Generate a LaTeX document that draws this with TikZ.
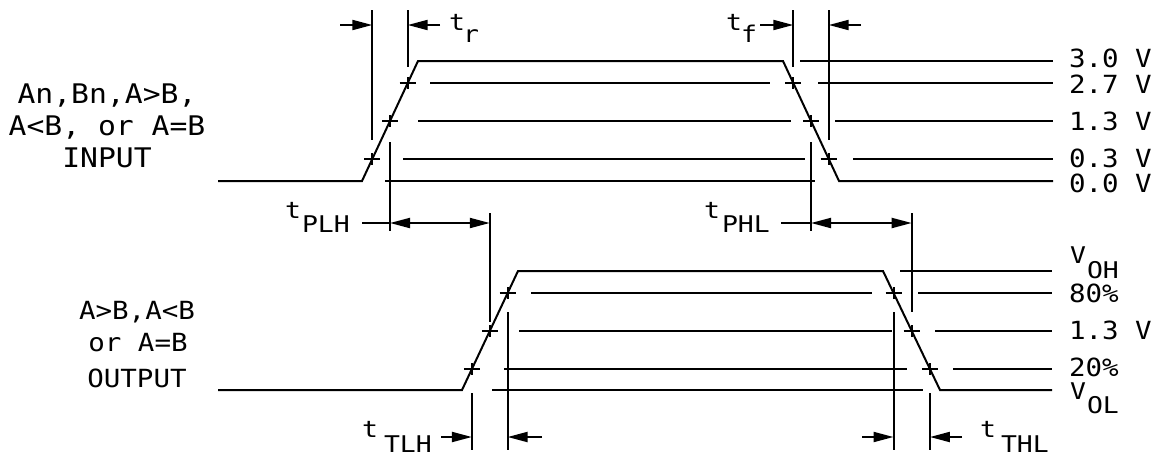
\documentclass[tikz,border=0pt]{standalone}
\usepackage{fontspec}
\newfontfamily\cadfont[FakeStretch=1.1]{DejaVu Sans Mono}
\newfontfamily\cadsmall[FakeStretch=1.15]{DejaVu Sans Mono}
\usetikzlibrary{arrows.meta}
\newcommand\tickmark[1]{\draw (#1) ++(-8,0) -- ++(16,0) (#1) ++(0,-6) -- ++(0,12);}
\begin{document}
\begin{tikzpicture}[x=1pt,y=-1pt,line width=2pt,
  wave/.style={line join=miter},
  dimarrow/.style={-{Triangle[length=20pt,width=10pt]}},
  dimboth/.style={{Triangle[length=20pt,width=10pt]}-{Triangle[length=20pt,width=10pt]}},
  biglbl/.style={font=\cadfont\fontsize{27}{32}\selectfont,inner sep=0pt,anchor=base},
  outlbl/.style={font=\cadfont\fontsize{25}{30}\selectfont,inner sep=0pt,anchor=base},
  rlbl/.style={font=\cadfont\fontsize{25}{30}\selectfont,inner sep=0pt,anchor=base west},
  sm/.style={font=\cadsmall\fontsize{23}{26}\selectfont,inner sep=0pt,anchor=base west}]
\useasboundingbox (0,0) rectangle (1156,456);
% ---------- input waveform ----------
\coordinate (i0) at (218,181); \coordinate (i1) at (362,181);
\coordinate (i2) at (418,61);  \coordinate (i3) at (783,61);
\coordinate (i4) at (839,181); \coordinate (i5) at (1053,181);
\draw[wave] (i0)--(i1)--(i2)--(i3)--(i4)--(i5);
% crossings
\coordinate (r27) at (407.7,83); \coordinate (r13) at (390,121); \coordinate (r03) at (372.3,159);
\coordinate (f27) at (793.3,83); \coordinate (f13) at (811,121); \coordinate (f03) at (828.7,159);
\foreach \c in {r27,r13,r03,f27,f13,f03} {\tickmark{\c}}
% level lines
\draw (800,61)--(1053,61);
\draw (430,83)--(770,83) (818,83)--(1053,83);
\draw (418,121)--(791,121) (835,121)--(1053,121);
\draw (403,159)--(805,159) (853,159)--(1053,159);
\draw (385,181)--(815,181);
% tr / tf extension lines
\coordinate (vtrA) at (372.3,10); \coordinate (vtrB) at (407.7,10);
\coordinate (vtfA) at (793.3,10); \coordinate (vtfB) at (828.7,10);
\draw (vtrA)--(372.3,140) (vtrB)--(407.7,67) (vtfA)--(793.3,67) (vtfB)--(828.7,140);
\coordinate (atrA) at (372.3,25); \coordinate (atrB) at (407.7,25);
\coordinate (atfA) at (793.3,25); \coordinate (atfB) at (828.7,25);
\draw[dimarrow] (340,25)--(atrA);
\draw[dimarrow] (440,25)--(atrB);
\draw[dimarrow] (760,25)--(atfA);
\draw[dimarrow] (861,25)--(atfB);
\node[sm] (tr1) at (448,30) {t};
\node[sm] (tr2) at (462,42) {r};
\node[sm] (tf1) at (725,30) {t};
\node[sm] (tf2) at (740,42) {f};
% tPLH / tPHL
\draw (390,142)--(390,231) (489.8,213)--(489.8,322);
\draw (811,142)--(811,231) (911.7,213)--(911.7,312);
\coordinate (plhA) at (390,223); \coordinate (plhB) at (489.8,223);
\coordinate (phlA) at (811,223); \coordinate (phlB) at (911.7,223);
\draw (362,223)--(plhA); \draw[dimboth] (plhA)--(plhB);
\draw (781,223)--(phlA); \draw[dimboth] (phlA)--(phlB);
\node[sm] (plh1) at (284,218) {t};
\node[sm] (plh2) at (301,232) {PLH};
\node[sm] (phl1) at (703,218) {t};
\node[sm] (phl2) at (721,232) {PHL};
% ---------- output waveform ----------
\coordinate (o0) at (218,390); \coordinate (o1) at (462,390);
\coordinate (o2) at (518,271); \coordinate (o3) at (883,271);
\coordinate (o4) at (940,390); \coordinate (o5) at (1052,390);
\draw[wave] (o0)--(o1)--(o2)--(o3)--(o4)--(o5);
\coordinate (or80) at (507.6,293); \coordinate (or13) at (489.8,331); \coordinate (or20) at (471.9,369);
\coordinate (of80) at (893.5,293); \coordinate (of13) at (911.7,331); \coordinate (of20) at (929.9,369);
\foreach \c in {or80,or13,or20,of80,of13,of20} {\tickmark{\c}}
\draw (900,271)--(1052,271);
\draw (531,293)--(872,293) (918,293)--(1052,293);
\draw (519,331)--(892,331) (935,331)--(1052,331);
\draw (504,369)--(907,369) (953,369)--(1052,369);
\draw (492,390)--(923,390);
% tTLH / tTHL
\draw (471.9,393)--(471.9,450) (507.6,312)--(507.6,450);
\draw (893.5,312)--(893.5,450) (929.9,393)--(929.9,450);
\coordinate (tlhA) at (471.9,437); \coordinate (tlhB) at (507.6,437);
\coordinate (thlA) at (893.5,437); \coordinate (thlB) at (929.9,437);
\draw[dimarrow] (441,437)--(tlhA);
\draw[dimarrow] (542,437)--(tlhB);
\draw[dimarrow] (862,437)--(thlA);
\draw[dimarrow] (962,437)--(thlB);
\node[sm] (tlh1) at (361,437) {t};
\node[sm] (tlh2) at (383,452) {TLH};
\node[sm] (thl1) at (979,437) {t};
\node[sm] (thl2) at (1000,452) {THL};
% ---------- labels ----------
\node[biglbl] (in1) at (107,103) {An,Bn,A>B,};
\node[biglbl] (in2) at (107,135) {A<B, or A=B};
\node[biglbl] (in3) at (107,167) {INPUT};
\node[outlbl] (out1) at (137,319) {A>B,A<B};
\node[outlbl] (out2) at (138,351) {or A=B};
\node[outlbl] (out3) at (137,387) {OUTPUT};
\node[rlbl] (v30) at (1068,67) {3.0 V};
\node[rlbl] (v27) at (1068,93) {2.7 V};
\node[rlbl] (v13) at (1068,130) {1.3 V};
\node[rlbl] (v03) at (1068,167) {0.3 V};
\node[rlbl] (v00) at (1068,192) {0.0 V};
\node[sm] (voh1) at (1069,263) {V};
\node[sm] (voh2) at (1086,278) {OH};
\node[rlbl] (p80) at (1068,302) {80\%};
\node[rlbl] (o13) at (1068,339) {1.3 V};
\node[rlbl] (p20) at (1068,376) {20\%};
\node[sm] (vol1) at (1069,399) {V};
\node[sm] (vol2) at (1086,413) {OL};
\end{tikzpicture}
\end{document}
